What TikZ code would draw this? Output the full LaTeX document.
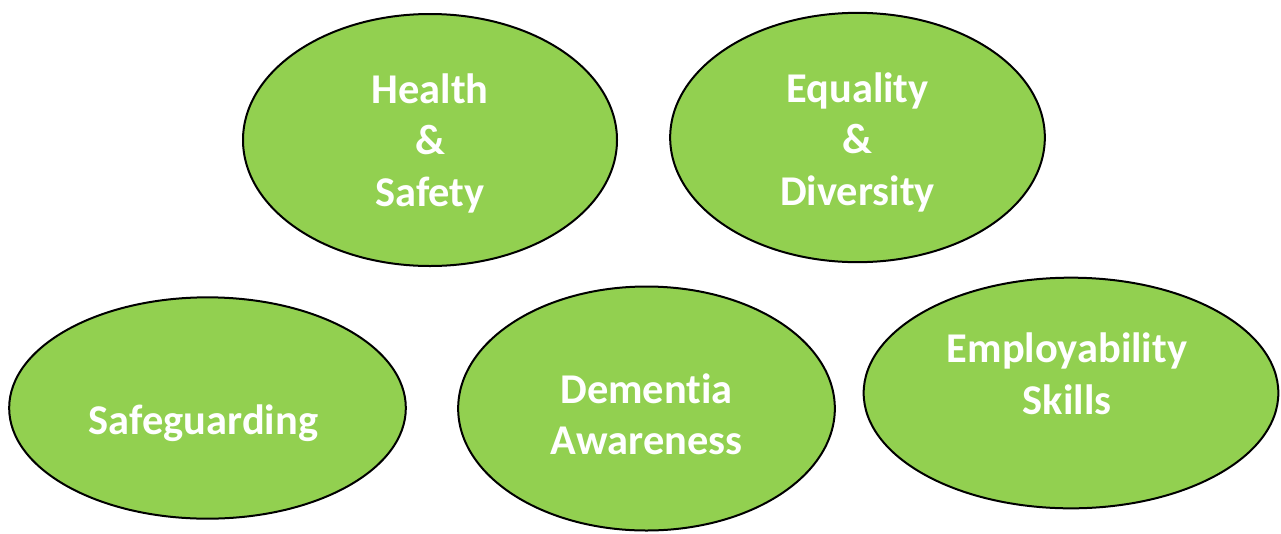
\documentclass[tikz,border=0pt]{standalone}
\usepackage{fontspec}
\setmainfont{Carlito}[RawFeature=-liga]
\usetikzlibrary{shapes.geometric,calc}

\definecolor{leafgreen}{RGB}{146,208,80}
\tikzset{every picture/.style={line width=0.75pt}}
\tikzset{
	topic/.style={ellipse, draw=black, fill=leafgreen, line width=1.5pt, inner sep=0pt},
	topictext/.style={text=white, align=center, font=\bfseries\fontsize{31.8}{38.6}\selectfont}
}

\begin{document}
\begin{tikzpicture}[x=0.75pt,y=0.75pt,yscale=-1,xscale=1]
				\useasboundingbox (0,0) rectangle (1281,533);
				%Shape: Ellipse [Health & Safety]
				\node[topic, minimum width=280.5pt, minimum height=189pt] (health) at (430,140) {};
				\node[topictext] (healthtxt) at ($(health.center)+(0,3)$) {Health\\\&\\Safety};
				%Shape: Ellipse [Equality & Diversity]
				\node[topic, minimum width=281pt, minimum height=187pt] (equality) at (857.5,137.5) {};
				\node[topictext] (equalitytxt) at ($(equality.center)+(0,4.5)$) {Equality\\\&\\Diversity};
				%Shape: Ellipse [Safeguarding]
				\node[topic, minimum width=297.5pt, minimum height=166pt] (safeguard) at (207.5,408) {};
				\node[topictext] (safeguardtxt) at ($(safeguard.center)+(-4,15)$) {Safeguarding};
				%Shape: Ellipse [Dementia Awareness]
				\node[topic, minimum width=282.5pt, minimum height=183pt] (dementia) at (646.5,408.5) {};
				\node[topictext] (dementiatxt) at ($(dementia.center)+(0,6)$) {Dementia\\Awareness};
				%Shape: Ellipse [Employability Skills]
				\node[topic, minimum width=311pt, minimum height=173pt] (employ) at (1071,393) {};
				\node[topictext] (employtxt) at ($(employ.center)+(-4,-19)$) {Employability\\Skills};
\end{tikzpicture}
\end{document}
